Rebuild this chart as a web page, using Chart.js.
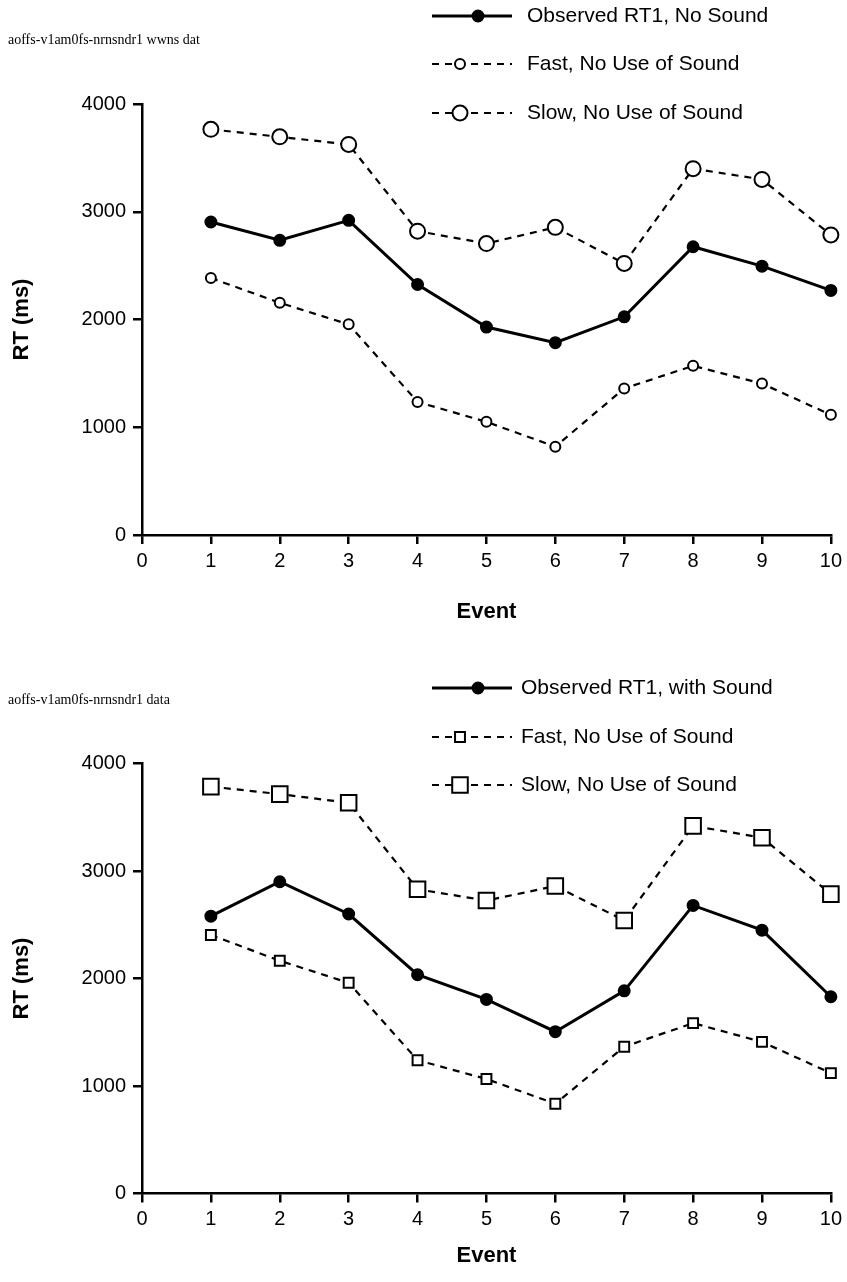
<!DOCTYPE html>
<html lang="en">
<head>
<meta charset="UTF-8">
<title>RT by Event</title>
<script src="https://cdn.jsdelivr.net/npm/chart.js"></script>
<style>
  body { margin: 0; background: #fff; }
  .box { position: relative; width: 847px; height: 641px; }
</style>
</head>
<body>
<div class="box"><canvas id="top"></canvas></div>
<div class="box"><canvas id="bottom"></canvas></div>

<script>
    // values (ms)
    const events = [1, 2, 3, 4, 5, 6, 7, 8, 9, 10];
    const xTicks = [0, 1, 2, 3, 4, 5, 6, 7, 8, 9, 10];
    const yTicks = [0, 1000, 2000, 3000, 4000];

    const observedNoSound = [2905, 2735, 2920, 2325, 1930, 1785, 2025, 2675, 2495, 2270];
    const fastNoSoundTop = [2385, 2155, 1955, 1235, 1050, 820, 1360, 1570, 1405, 1115];
    const slowNoSoundTop = [3765, 3695, 3625, 2820, 2705, 2855, 2520, 3400, 3300, 2785];

    const observedWithSound = [2580, 2900, 2600, 2035, 1805, 1505, 1885, 2680, 2450, 1830];
    const fastNoSoundBottom = [2405, 2165, 1960, 1240, 1065, 835, 1365, 1585, 1410, 1120];
    const slowNoSoundBottom = [3785, 3715, 3635, 2830, 2725, 2860, 2540, 3420, 3310, 2785];

    const FONT = "'Liberation Sans', Arial, sans-serif";

    function pts(ys) {
        return events.map((e, i) => ({ x: e, y: ys[i] }));
    }

    function drawMarker(ctx, style, r, x, y, fill) {
        ctx.save();
        ctx.setLineDash([]);
        ctx.lineWidth = 2;
        ctx.strokeStyle = "#000";
        ctx.fillStyle = fill;
        ctx.beginPath();
        if (style === "rect") {
            const s = r * Math.SQRT1_2;
            ctx.rect(x - s, y - s, 2 * s, 2 * s);
        } else {
            ctx.arc(x, y, r, 0, Math.PI * 2);
        }
        ctx.fill();
        ctx.stroke();
        ctx.restore();
    }

    // legend in the top right and the file name top left
    const decor = {
        id: "decor",
        afterDraw(chart, args, opts) {
            const ctx = chart.ctx;
            ctx.save();
            ctx.fillStyle = "#000";
            ctx.font = "14px 'Liberation Serif', 'Times New Roman', serif";
            ctx.textBaseline = "middle";
            ctx.textAlign = "left";
            ctx.fillText(opts.caption, 8, opts.captionY);

            chart.data.datasets.forEach((ds, i) => {
                const y = opts.rows[i];
                const x0 = 432, x1 = 512;
                const mx = ds.borderDash.length ? 460 : 478;
                ctx.strokeStyle = "#000";
                ctx.lineWidth = ds.borderWidth;
                ctx.setLineDash(ds.borderDash);
                ctx.beginPath();
                ctx.moveTo(x0, y);
                ctx.lineTo(x1, y);
                ctx.stroke();
                drawMarker(ctx, ds.pointStyle, ds.pointRadius, mx, y, ds.pointBackgroundColor);
                ctx.fillStyle = "#000";
                ctx.font = "21px " + FONT;
                ctx.fillText(ds.label, opts.textX, y);
            });
            ctx.restore();
        }
    };

    function makeChart(id, sets, o) {
        const axisStyle = {
            border: { display: true, color: "#000", width: 2.5 },
            grid: { drawOnChartArea: false, drawTicks: true, tickLength: 9, color: "#000", lineWidth: 2.5 }
        };
        new Chart(document.getElementById(id), {
            type: "line",
            data: {
                datasets: sets.map(s => ({
                    label: s.label,
                    data: pts(s.values),
                    borderColor: "#000",
                    borderWidth: s.dashed ? 2.2 : 3,
                    borderDash: s.dashed ? [7, 6] : [],
                    pointStyle: s.style,
                    pointRadius: s.radius,
                    pointBorderWidth: 2,
                    pointBorderColor: "#000",
                    pointBackgroundColor: s.dashed ? "#fff" : "#000",
                    tension: 0,
                    clip: false,
                    order: s.dashed ? 1 : 0
                }))
            },
            options: {
                responsive: true,
                maintainAspectRatio: false,
                animation: false,
                events: [],
                layout: { padding: { top: o.top, right: 14, left: 0, bottom: 0 } },
                plugins: {
                    legend: { display: false },
                    tooltip: { enabled: false },
                    decor: { caption: o.caption, captionY: o.captionY, rows: o.rows, textX: o.textX }
                },
                scales: {
                    x: {
                        type: "linear",
                        min: xTicks[0],
                        max: xTicks[xTicks.length - 1],
                        afterBuildTicks: s => { s.ticks = xTicks.map(v => ({ value: v })); },
                        afterFit: s => { s.height = o.xHeight; },
                        ticks: { color: "#000", font: { family: FONT, size: 20 }, padding: 5, maxRotation: 0, callback: v => String(v) },
                        title: {
                            display: true, text: "Event", color: "#000",
                            font: { family: FONT, size: 22, weight: "bold" },
                            padding: { top: 0, bottom: o.titlePad }
                        },
                        ...axisStyle
                    },
                    y: {
                        min: yTicks[0],
                        max: yTicks[yTicks.length - 1],
                        afterBuildTicks: s => { s.ticks = yTicks.map(v => ({ value: v })); },
                        afterFit: s => { s.width = 142; },
                        ticks: { color: "#000", font: { family: FONT, size: 20 }, padding: 7, callback: v => String(v) },
                        title: {
                            display: true, text: "RT (ms)", color: "#000",
                            font: { family: FONT, size: 22, weight: "bold" },
                            padding: { top: 9, bottom: 0 }
                        },
                        ...axisStyle
                    }
                }
            },
            plugins: [decor]
        });
    }

    makeChart("top", [
        { label: "Observed RT1, No Sound", values: observedNoSound, dashed: false, style: "circle", radius: 5.5 },
        { label: "Fast, No Use of Sound", values: fastNoSoundTop, dashed: true, style: "circle", radius: 5 },
        { label: "Slow, No Use of Sound", values: slowNoSoundTop, dashed: true, style: "circle", radius: 7.5 }
    ], { top: 104, xHeight: 106, titlePad: 16, caption: "aoffs-v1am0fs-nrnsndr1 wwns dat", captionY: 40, rows: [16, 64, 113], textX: 527 });

    makeChart("bottom", [
        { label: "Observed RT1, with Sound", values: observedWithSound, dashed: false, style: "circle", radius: 5.5 },
        { label: "Fast, No Use of Sound", values: fastNoSoundBottom, dashed: true, style: "rect", radius: 7 },
        { label: "Slow, No Use of Sound", values: slowNoSoundBottom, dashed: true, style: "rect", radius: 11 }
    ], { top: 122.5, xHeight: 88.5, titlePad: 13, caption: "aoffs-v1am0fs-nrnsndr1 data", captionY: 59, rows: [47, 96, 144], textX: 521 });
</script>
</body>
</html>
